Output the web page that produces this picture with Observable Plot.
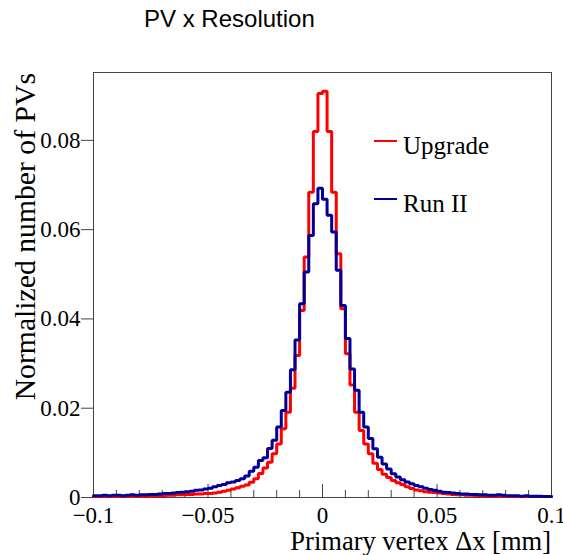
<!DOCTYPE html>
<html><head><meta charset="utf-8">
<script src="https://cdn.jsdelivr.net/npm/d3@7"></script>
<script src="https://cdn.jsdelivr.net/npm/@observablehq/plot@0.6"></script>
<style>
body{margin:0;background:#fff}
#chart{position:relative;width:563px;height:555px}
</style>
</head><body><div id="chart"></div>
<script>
// Histogram binning: 100 bins from -0.1 to 0.1 mm
const xRange = [-0.1, 0.1];
const binCount = 100;

// Normalized number of PVs per bin
const upgrade = [
  0.0002,0.0002,0.0002,0.0002,0.0002,0.0002,0.0003,0.0002,0.0003,0.0003,0.0003,0.0003,0.0004,0.0004,0.0004,
  0.0004,0.0005,0.0005,0.0006,0.0006,0.0007,0.0007,0.0008,0.0008,0.0009,0.0009,0.0010,0.0012,0.0014,0.0016,0.0019,0.0022,
  0.0025,0.0028,0.0034,0.0042,0.0054,0.0066,0.0079,0.0098,0.0120,0.0154,0.0191,0.0245,0.0318,0.0419,0.0539,0.0684,0.0820,0.0905,
  0.0910,0.0820,0.0684,0.0546,0.0423,0.0322,0.0252,0.0191,0.0150,0.0120,0.0098,0.0077,0.0063,0.0052,0.0045,0.0038,0.0033,0.0029,
  0.0024,0.0020,0.0017,0.0015,0.0013,0.0012,0.0011,0.0010,0.0009,0.0008,0.0007,0.0006,0.0006,0.0005,0.0005,0.0004,
  0.0004,0.0004,0.0003,0.0003,0.0003,0.0003,0.0003,0.0002,0.0002,0.0002,0.0002,0.0002,0.0002,0.0002,0.0002,0.0002
];
const runII = [
  0.0004,0.0004,0.0005,0.0004,0.0005,0.0005,0.0004,0.0005,0.0006,0.0005,0.0006,0.0006,0.0007,0.0007,0.0008,
  0.0009,0.0009,0.0010,0.0011,0.0012,0.0013,0.0014,0.0016,0.0017,0.0019,0.0021,0.0024,0.0027,0.0029,0.0033,0.0035,0.0038,
  0.0042,0.0048,0.0059,0.0068,0.0083,0.0089,0.0110,0.0128,0.0158,0.0195,0.0236,0.0286,0.0353,0.0434,0.0505,0.0587,0.0658,0.0693,
  0.0668,0.0632,0.0595,0.0509,0.0430,0.0356,0.0288,0.0240,0.0191,0.0158,0.0132,0.0109,0.0090,0.0075,0.0064,0.0053,0.0046,0.0040,
  0.0035,0.0031,0.0027,0.0024,0.0021,0.0018,0.0016,0.0014,0.0012,0.0011,0.0010,0.0009,0.0008,0.0008,0.0007,0.0007,
  0.0006,0.0006,0.0005,0.0005,0.0006,0.0005,0.0004,0.0004,0.0004,0.0003,0.0004,0.0003,0.0003,0.0003,0.0002,0.0002
];

const seriesNames = ["Upgrade", "Run II"];
const seriesColors = ["#ff0000", "#000099"];
const xTicks = [-0.1, -0.05, 0, 0.05, 0.1];
const xMinorTicks = [-0.09,-0.08,-0.07,-0.06,-0.04,-0.03,-0.02,-0.01,0.01,0.02,0.03,0.04,0.06,0.07,0.08,0.09];
const yTicks = [0, 0.02, 0.04, 0.06, 0.08];
const yMax = 0.0952;

const titleText = "PV x Resolution";
const xLabel = "Primary vertex \u0394x [mm]";
const yLabel = "Normalized number of PVs";

// Build step outlines (bin low edges + closing right edge)
const binW = (xRange[1] - xRange[0]) / binCount;
function steps(name, vals) {
  const rows = vals.map((v, i) => ({series: name, x: xRange[0] + i * binW, y: v}));
  rows.push({series: name, x: xRange[1], y: vals[vals.length - 1]});
  return rows;
}
const rows = [...steps(seriesNames[0], upgrade), ...steps(seriesNames[1], runII)];

const W = 563, H = 555, mL = 93, mR = 12, mT = 72, mB = 58;
const innerH = H - mT - mB;
const fmt = d => d === 0 ? "0" : (d < 0 ? "\u2212" : "") + String(Math.abs(d));

const svg = Plot.plot({
  width: W, height: H,
  marginLeft: mL, marginRight: mR, marginTop: mT, marginBottom: mB,
  style: {fontFamily: "'Liberation Serif', 'Times New Roman', serif", fontSize: "23px", color: "#000", background: "#fff", overflow: "visible"},
  x: {domain: xRange},
  y: {domain: [0, yMax]},
  color: {domain: seriesNames, range: seriesColors},
  marks: [
    Plot.frame({stroke: "#444", strokeWidth: 1}),
    Plot.tickX(xMinorTicks, {x: d => d, insetTop: innerH - 7, stroke: "#444"}),
    Plot.tickX(xTicks, {x: d => d, insetTop: innerH - 13, stroke: "#444"}),
    Plot.axisX(xTicks, {tickSize: 0, tickPadding: 9, tickFormat: fmt, label: null, fontSize: 23}),
    Plot.axisY(yTicks, {tickSize: 12, tickPadding: 1, tickFormat: fmt, label: null, fontSize: 23, stroke: "#444"}),
    Plot.lineY(rows, {x: "x", y: "y", z: "series", stroke: "series", curve: "step-after", strokeWidth: 3, strokeLinejoin: "miter"})
  ]
});
document.getElementById("chart").appendChild(svg);

const s = d3.select(svg);
// Title
s.append("text").attr("x", 144).attr("y", 27).attr("text-anchor", "start")
  .attr("font-family", "'Liberation Sans', Arial, sans-serif").attr("font-size", 24)
  .attr("fill", "#000").text(titleText);
// X label
s.append("text").attr("x", W - mR).attr("y", 550).attr("text-anchor", "end")
  .attr("font-size", 26.5).attr("fill", "#000").text(xLabel);
// Y label
s.append("text").attr("transform", "translate(35,73) rotate(-90)").attr("text-anchor", "end")
  .attr("font-size", 29.7).attr("fill", "#000").text(yLabel);
// Legend
const legY = [141, 199];
seriesNames.forEach((name, i) => {
  s.append("line").attr("x1", 374).attr("x2", 397).attr("y1", legY[i]).attr("y2", legY[i])
    .attr("stroke", seriesColors[i]).attr("stroke-width", 2);
  s.append("text").attr("x", 403).attr("y", legY[i] + 13).attr("text-anchor", "start")
    .attr("font-size", 25).attr("fill", "#000").text(name);
});
</script>
</body></html>
